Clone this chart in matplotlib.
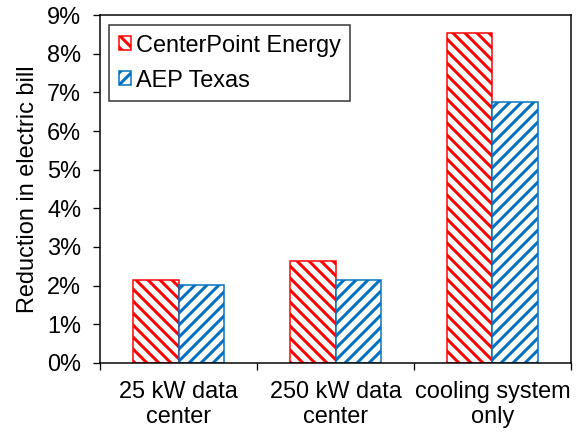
import numpy as np
import matplotlib
matplotlib.use('Agg')
import matplotlib.pyplot as plt
from matplotlib.ticker import FixedLocator, PercentFormatter

plt.rcParams['font.family'] = ['Liberation Sans', 'DejaVu Sans']
plt.rcParams['hatch.linewidth'] = 3.0

categories = ['25 kW data\ncenter', '250 kW data\ncenter', 'cooling system\nonly']
centerpoint = [2.14, 2.63, 8.53]
aep_texas = [2.01, 2.14, 6.74]

fs = 23.5

fig = plt.figure(figsize=(8, 6), dpi=72)
ax = fig.add_axes([0.174, 0.16, 0.817, 0.805])

x = np.arange(len(categories))
w = 0.29
ax.bar(x - w / 2, centerpoint, w, facecolor='white', edgecolor='#ff0000',
       hatch='\\\\', linewidth=1.5, label='CenterPoint Energy')
ax.bar(x + w / 2, aep_texas, w, facecolor='white', edgecolor='#0070c0',
       hatch='//', linewidth=1.5, label='AEP Texas')

ax.set_xlim(-0.5, 2.5)
ax.set_ylim(0, 9)
ax.yaxis.set_major_locator(FixedLocator(np.arange(0, 10, 1)))
ax.yaxis.set_major_formatter(PercentFormatter(decimals=0))
ax.set_xticks([-0.5, 0.5, 1.5, 2.5])
ax.set_xticklabels([])
ax.set_xticks(x, minor=True)
ax.set_xticklabels(categories, minor=True)
ax.tick_params(axis='x', which='minor', length=0, pad=18, labelsize=fs)
ax.tick_params(axis='x', which='major', length=7, width=1.3, direction='out')
ax.tick_params(axis='y', length=7, width=1.3, direction='out', labelsize=fs, pad=12)
for s in ax.spines.values():
    s.set_linewidth(1.5)

ax.set_ylabel('Reduction in electric bill', fontsize=fs, labelpad=8)

leg = ax.legend(loc='upper left', fontsize=fs, frameon=True, fancybox=False,
                edgecolor='black', handlelength=0.55, handleheight=0.55,
                handletextpad=0.2, borderpad=0.4, labelspacing=0.55,
                borderaxespad=0, bbox_to_anchor=(0.019, 0.971))
leg.get_frame().set_linewidth(1.5)

fig.savefig('out.png', dpi=72)
